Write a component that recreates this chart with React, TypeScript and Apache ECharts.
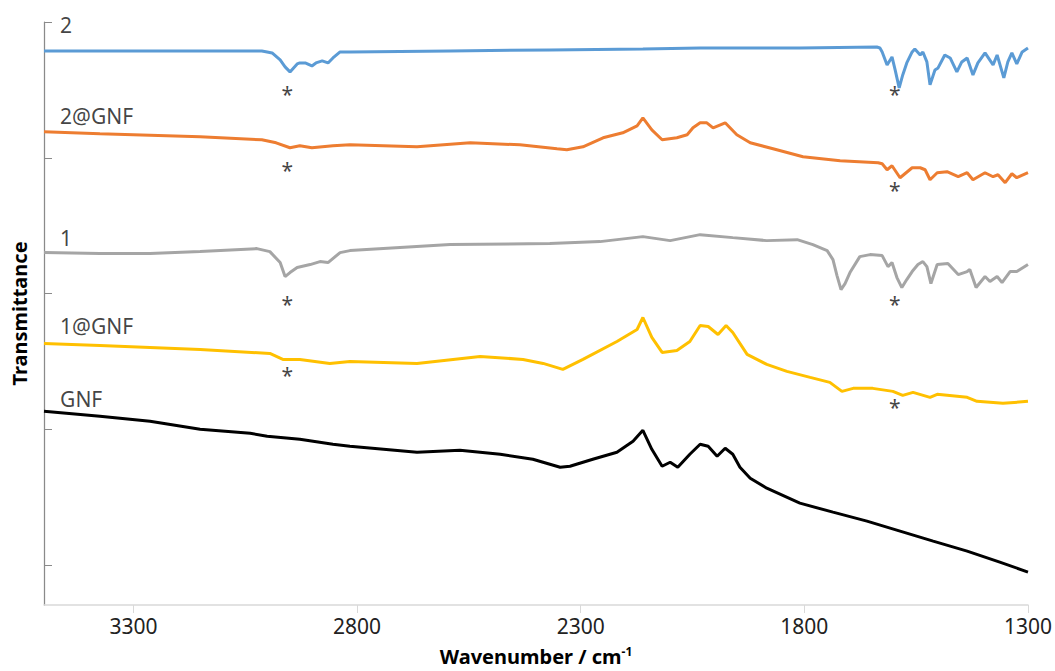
import React, { useEffect, useRef } from "react";
import * as echarts from "echarts";

// Wavenumber axis (cm^-1), reversed
const xMin = 1300;
const xMax = 3500;
const xTickValues = [1300, 1800, 2300, 2800, 3300];

// Transmittance (arbitrary offset units)
const yMin = 0;
const yMax = 584;
const yTickValues = [40, 176, 312, 448, 584];

const seriesNames = ["2", "2@GNF", "1", "1@GNF", "GNF"];

const data2: number[][] = [
  [3500, 555], [3263, 555], [3013, 555], [3001, 554], [2990, 553], [2972, 546], [2961, 539],
  [2950, 534], [2934, 542], [2928, 543], [2916, 543], [2901, 540], [2892, 543], [2878, 545],
  [2865, 543], [2854, 548], [2838, 554], [2816, 554], [2592, 555], [2369, 556], [2161, 557],
  [2033, 558], [1810, 558], [1638, 559], [1631, 558], [1626, 554], [1615, 541], [1604, 549],
  [1597, 536], [1588, 518], [1580, 531], [1571, 543], [1559, 554], [1553, 557], [1541, 551],
  [1535, 554], [1526, 544], [1519, 521], [1508, 536], [1501, 538], [1486, 551], [1474, 548],
  [1459, 534], [1448, 544], [1436, 548], [1423, 531], [1412, 543], [1396, 553], [1378, 541],
  [1369, 551], [1354, 528], [1345, 544], [1336, 553], [1325, 542], [1313, 554], [1300, 558],
];

const data2GNF: number[][] = [
  [3500, 474], [3375, 472], [3151, 469], [3013, 466], [2981, 463], [2950, 458], [2928, 460],
  [2901, 458], [2854, 460], [2816, 461], [2666, 459], [2547, 463], [2436, 461], [2353, 457],
  [2331, 456], [2295, 459], [2250, 468], [2206, 473], [2174, 480], [2161, 488], [2141, 476],
  [2118, 466], [2085, 468], [2062, 471], [2049, 478], [2033, 483], [2018, 483], [2004, 478],
  [1977, 483], [1951, 471], [1921, 463], [1870, 457], [1803, 449], [1720, 445], [1635, 443],
  [1626, 442], [1615, 436], [1604, 440], [1586, 428], [1559, 438], [1541, 438], [1530, 436],
  [1519, 426], [1503, 433], [1481, 434], [1456, 429], [1436, 433], [1423, 426], [1396, 433],
  [1378, 429], [1367, 431], [1351, 423], [1336, 432], [1325, 428], [1300, 433],
];

const data1: number[][] = [
  [3500, 353], [3375, 352], [3263, 352], [3151, 354], [3024, 357], [2995, 354], [2972, 343],
  [2961, 329], [2950, 333], [2934, 338], [2905, 341], [2883, 344], [2865, 343], [2838, 353],
  [2816, 355], [2592, 361], [2369, 362], [2257, 364], [2161, 369], [2100, 365], [2033, 371],
  [1960, 368], [1884, 365], [1816, 366], [1781, 361], [1749, 355], [1736, 346], [1727, 330],
  [1718, 316], [1709, 322], [1698, 333], [1676, 349], [1653, 351], [1626, 350], [1613, 339],
  [1604, 343], [1593, 328], [1582, 318], [1571, 326], [1559, 334], [1546, 341], [1535, 344],
  [1526, 339], [1517, 322], [1503, 341], [1479, 342], [1456, 331], [1436, 334], [1430, 336],
  [1416, 318], [1396, 329], [1385, 324], [1369, 329], [1358, 323], [1340, 334], [1325, 334],
  [1300, 341],
];

const data1GNF: number[][] = [
  [3500, 262], [3375, 260], [3151, 256], [2995, 252], [2966, 246], [2928, 246], [2861, 242],
  [2816, 244], [2666, 242], [2525, 249], [2429, 246], [2384, 242], [2340, 236], [2295, 246],
  [2219, 264], [2174, 276], [2161, 288], [2141, 268], [2118, 253], [2085, 255], [2056, 264],
  [2033, 280], [2015, 279], [1993, 271], [1975, 280], [1960, 273], [1928, 251], [1884, 241],
  [1839, 234], [1787, 228], [1743, 223], [1716, 214], [1691, 217], [1647, 217], [1602, 214],
  [1580, 210], [1557, 213], [1519, 208], [1503, 211], [1436, 208], [1414, 204], [1356, 202],
  [1300, 204],
];

const dataGNF: number[][] = [
  [3500, 194], [3375, 189], [3263, 184], [3151, 176], [3039, 172], [3001, 169], [2928, 166],
  [2854, 161], [2816, 159], [2666, 153], [2570, 155], [2480, 151], [2407, 146], [2346, 138],
  [2324, 139], [2273, 146], [2219, 153], [2183, 164], [2161, 175], [2141, 156], [2118, 139],
  [2100, 143], [2083, 138], [2056, 151], [2033, 161], [2015, 159], [1995, 149], [1977, 157],
  [1960, 151], [1944, 138], [1921, 127], [1884, 117], [1810, 102], [1736, 93], [1660, 84],
  [1586, 74], [1512, 64], [1436, 54], [1363, 43], [1300, 33],
];

// Series name annotations (wavenumber, transmittance) at text's left edge
const nameLabelPoints: number[][] = [
  [3464, 581], [3464, 490], [3464, 368], [3464, 279], [3464, 206],
];

// Asterisk markers
const asteriskPoints: number[][] = [
  [2956, 512], [2956, 436], [2956, 302], [2956, 230],
  [1598, 512], [1598, 416], [1598, 302], [1598, 198],
];

const seriesData = [data2, data2GNF, data1, data1GNF, dataGNF];
const colors = ["#5B9BD5", "#ED7D31", "#A5A5A5", "#FFC000", "#000000"];

const FONT = "'Noto Sans', 'Open Sans', sans-serif";

export default function App() {
  const ref = useRef<HTMLDivElement>(null);

  useEffect(() => {
    if (!ref.current) return;
    const chart = echarts.init(ref.current, undefined, { renderer: "svg" });

    const lineSeries = seriesData.map((d, i) => ({
      name: seriesNames[i],
      type: "line",
      data: d,
      symbol: "none",
      smooth: false,
      lineStyle: { color: colors[i], width: 3 },
      itemStyle: { color: colors[i] },
      z: 2 + (seriesData.length - i),
      silent: true,
    }));

    const option: any = {
      animation: false,
      backgroundColor: "#ffffff",
      textStyle: { fontFamily: FONT },
      grid: { left: 44, right: 27, top: 22, bottom: 65 },
      xAxis: {
        type: "value",
        min: xMin,
        max: xMax,
        inverse: true,
        name: "Wavenumber / cm{sup|-1}",
        nameLocation: "middle",
        nameGap: 40,
        nameTextStyle: {
          fontFamily: FONT,
          fontSize: 20,
          fontWeight: "bold",
          color: "#000000",
          rich: {
            sup: {
              fontFamily: FONT,
              fontSize: 12,
              fontWeight: "bold",
              color: "#000000",
              padding: [0, 0, 10, 0],
            },
          },
        },
        axisLine: { show: true, lineStyle: { color: "#d9d9d9", width: 1.5 } },
        axisTick: {
          show: true,
          length: 8,
          customValues: xTickValues,
          lineStyle: { color: "#d9d9d9", width: 1 },
        },
        axisLabel: {
          show: true,
          customValues: xTickValues,
          formatter: (v: number) => String(Math.round(v)),
          fontFamily: FONT,
          fontSize: 21,
          color: "#222222",
          margin: 10,
        },
        splitLine: { show: false },
      },
      yAxis: {
        type: "value",
        min: yMin,
        max: yMax,
        name: "Transmittance",
        nameLocation: "middle",
        nameGap: 15,
        nameTextStyle: {
          fontFamily: FONT,
          fontSize: 20,
          fontWeight: "bold",
          color: "#000000",
        },
        axisLine: { show: true, lineStyle: { color: "#8a8a8a", width: 1.25 } },
        axisTick: {
          show: true,
          inside: true,
          length: 8,
          customValues: yTickValues,
          lineStyle: { color: "#8a8a8a", width: 1 },
        },
        axisLabel: { show: false },
        splitLine: { show: false },
      },
      series: [
        ...lineSeries,
        {
          name: "names",
          type: "scatter",
          symbolSize: 0,
          silent: true,
          data: nameLabelPoints.map((p, i) => ({ value: p, name: seriesNames[i] })),
          label: {
            show: true,
            position: "right",
            distance: 0,
            formatter: "{b}",
            fontFamily: FONT,
            fontSize: 21,
            color: "#111111",
          },
          z: 10,
        },
        {
          name: "asterisks",
          type: "scatter",
          symbolSize: 0,
          silent: true,
          data: asteriskPoints.map((p) => ({ value: p, name: "*" })),
          label: {
            show: true,
            position: "inside",
            formatter: "*",
            fontFamily: FONT,
            fontSize: 21,
            color: "#111111",
          },
          z: 10,
        },
      ],
    };

    chart.setOption(option);
    return () => chart.dispose();
  }, []);

  return (
    <div
      ref={ref}
      style={{ position: "fixed", left: 0, top: 0, width: 1055, height: 671, background: "#fff" }}
    />
  );
}
